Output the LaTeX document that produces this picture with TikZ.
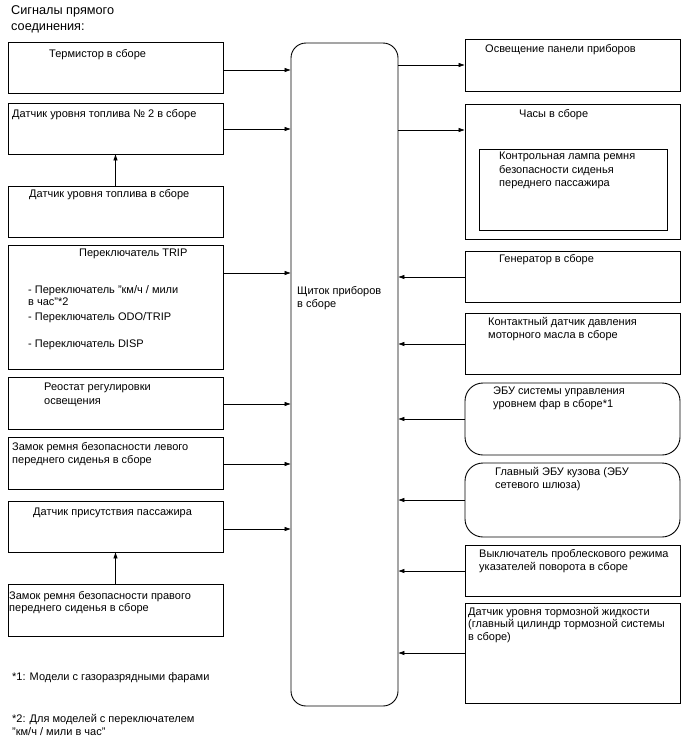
\documentclass[tikz,border=0pt]{standalone}
\usepackage{fontspec}
\setmainfont{Liberation Sans}
\usetikzlibrary{arrows.meta,fit}
\begin{document}
\begin{tikzpicture}[x=1pt,y=-1pt,
  box/.style={draw, line width=0.9pt, inner sep=0pt},
  rbox/.style={box, rounded corners=#1},
  txt/.style={font=\fontsize{11}{13.5}\selectfont, inner sep=0pt, align=left},
  arr/.style={line width=0.8pt, -{Triangle[length=6pt,width=4pt]}}]
\useasboundingbox (0,0) rectangle (688,755);

% left boxes
\node[box, fit={(8,42) (223,93)}] (L1) {};
\node[box, fit={(8,103) (223,154)}] (L2) {};
\node[box, fit={(8,186) (223,237)}] (L3) {};
\node[box, fit={(8,245) (223,369)}] (L4) {};
\node[box, fit={(8,377) (223,429)}] (L5) {};
\node[box, fit={(8,437) (223,489)}] (L6) {};
\node[box, fit={(8,501) (223,552)}] (L7) {};
\node[box, fit={(8,584) (223,636)}] (L8) {};
% central
\node[rbox=15pt, fit={(291,43) (398,706)}] (C) {};
% right boxes
\node[box, fit={(465,39) (680,91)}] (R1) {};
\node[box, fit={(465,104) (680,239)}] (R2) {};
\node[box, fit={(479,149) (667,230)}] (R2i) {};
\node[box, fit={(465,251) (680,302)}] (R3) {};
\node[box, fit={(465,313) (680,374)}] (R4) {};
\node[rbox=18pt, fit={(465,383) (680,455)}] (R5) {};
\node[rbox=18pt, fit={(465,463) (680,537)}] (R6) {};
\node[box, fit={(465,545) (680,596)}] (R7) {};
\node[box, fit={(465,603) (680,703)}] (R8) {};

% texts
\node[txt, anchor=north west, font=\fontsize{12.7}{16}\selectfont] (title) at (11,5) {Сигналы прямого\\соединения:};
\node[txt, anchor=west] (t1) at (49,55) {Термистор в сборе};
\node[txt, anchor=west] (t2) at (12,115) {Датчик уровня топлива № 2 в сборе};
\node[txt, anchor=west] (t3) at (29,195) {Датчик уровня топлива в сборе};
\node[txt, anchor=west] (t4) at (79,254) {Переключатель TRIP};
\node[txt, anchor=north west, font=\fontsize{11}{12.5}\selectfont] (t4b) at (28,285) {- Переключатель "км/ч / мили\\в час"*2};
\node[txt, anchor=west] (t4c) at (28,318) {- Переключатель ODO/TRIP};
\node[txt, anchor=west] (t4d) at (28,345) {- Переключатель DISP};
\node[txt, anchor=north west] (t5) at (44,383) {Реостат регулировки\\освещения};
\node[txt, anchor=north west] (t6) at (12,442) {Замок ремня безопасности левого\\переднего сиденья в сборе};
\node[txt, anchor=west] (t7) at (33,513) {Датчик присутствия пассажира};
\node[txt, anchor=north west, font=\fontsize{11}{12.5}\selectfont] (t8) at (9,591) {Замок ремня безопасности правого\\переднего сиденья в сборе};
\node[txt, anchor=north west] (tc) at (297,286) {Щиток приборов\\в сборе};
\node[txt, anchor=west] (r1) at (485,50) {Освещение панели приборов};
\node[txt, anchor=west] (r2) at (519,115) {Часы в сборе};
\node[txt, anchor=north west] (r2i) at (499,152) {Контрольная лампа ремня\\безопасности сиденья\\переднего пассажира};
\node[txt, anchor=west] (r3) at (499,260) {Генератор в сборе};
\node[txt, anchor=north west] (r4) at (488,317) {Контактный датчик давления\\моторного масла в сборе};
\node[txt, anchor=north west, font=\fontsize{11}{12.5}\selectfont] (r5) at (493,387) {ЭБУ системы управления\\уровнем фар в сборе*1};
\node[txt, anchor=north west] (r6) at (495,467) {Главный ЭБУ кузова (ЭБУ\\сетевого шлюза)};
\node[txt, anchor=north west] (r7) at (479,549) {Выключатель проблескового режима\\указателей поворота в сборе};
\node[txt, anchor=north west, font=\fontsize{11}{12.5}\selectfont] (r8) at (468,607) {Датчик уровня тормозной жидкости\\(главный цилиндр тормозной системы\\в сборе)};
\node[txt, anchor=west] (fn1) at (12,678) {*1: Модели с газоразрядными фарами};
\node[txt, anchor=north west] (fn2) at (12,714) {*2: Для моделей с переключателем\\"км/ч / мили в час"};

% connectors
\draw[arr] (L1.east |- 0,70) -- (C.west |- 0,70);
\draw[arr] (L2.east |- 0,129) -- (C.west |- 0,129);
\draw[arr] (L4.east |- 0,273) -- (C.west |- 0,273);
\draw[arr] (L5.east |- 0,404) -- (C.west |- 0,404);
\draw[arr] (L6.east |- 0,464) -- (C.west |- 0,464);
\draw[arr] (L7.east |- 0,529) -- (C.west |- 0,529);
\draw[arr] (L3.north) -- (L2.south);
\draw[arr] (L8.north) -- (L7.south);
\draw[arr] (C.east |- 0,65) -- (R1.west |- 0,65);
\draw[arr] (C.east |- 0,130) -- (R2.west |- 0,130);
\draw[arr] (R3.west |- 0,277) -- (C.east |- 0,277);
\draw[arr] (R4.west |- 0,344) -- (C.east |- 0,344);
\draw[arr] (R5.west |- 0,419) -- (C.east |- 0,419);
\draw[arr] (R6.west |- 0,500) -- (C.east |- 0,500);
\draw[arr] (R7.west |- 0,571) -- (C.east |- 0,571);
\draw[arr] (R8.west |- 0,653) -- (C.east |- 0,653);
\end{tikzpicture}
\end{document}
